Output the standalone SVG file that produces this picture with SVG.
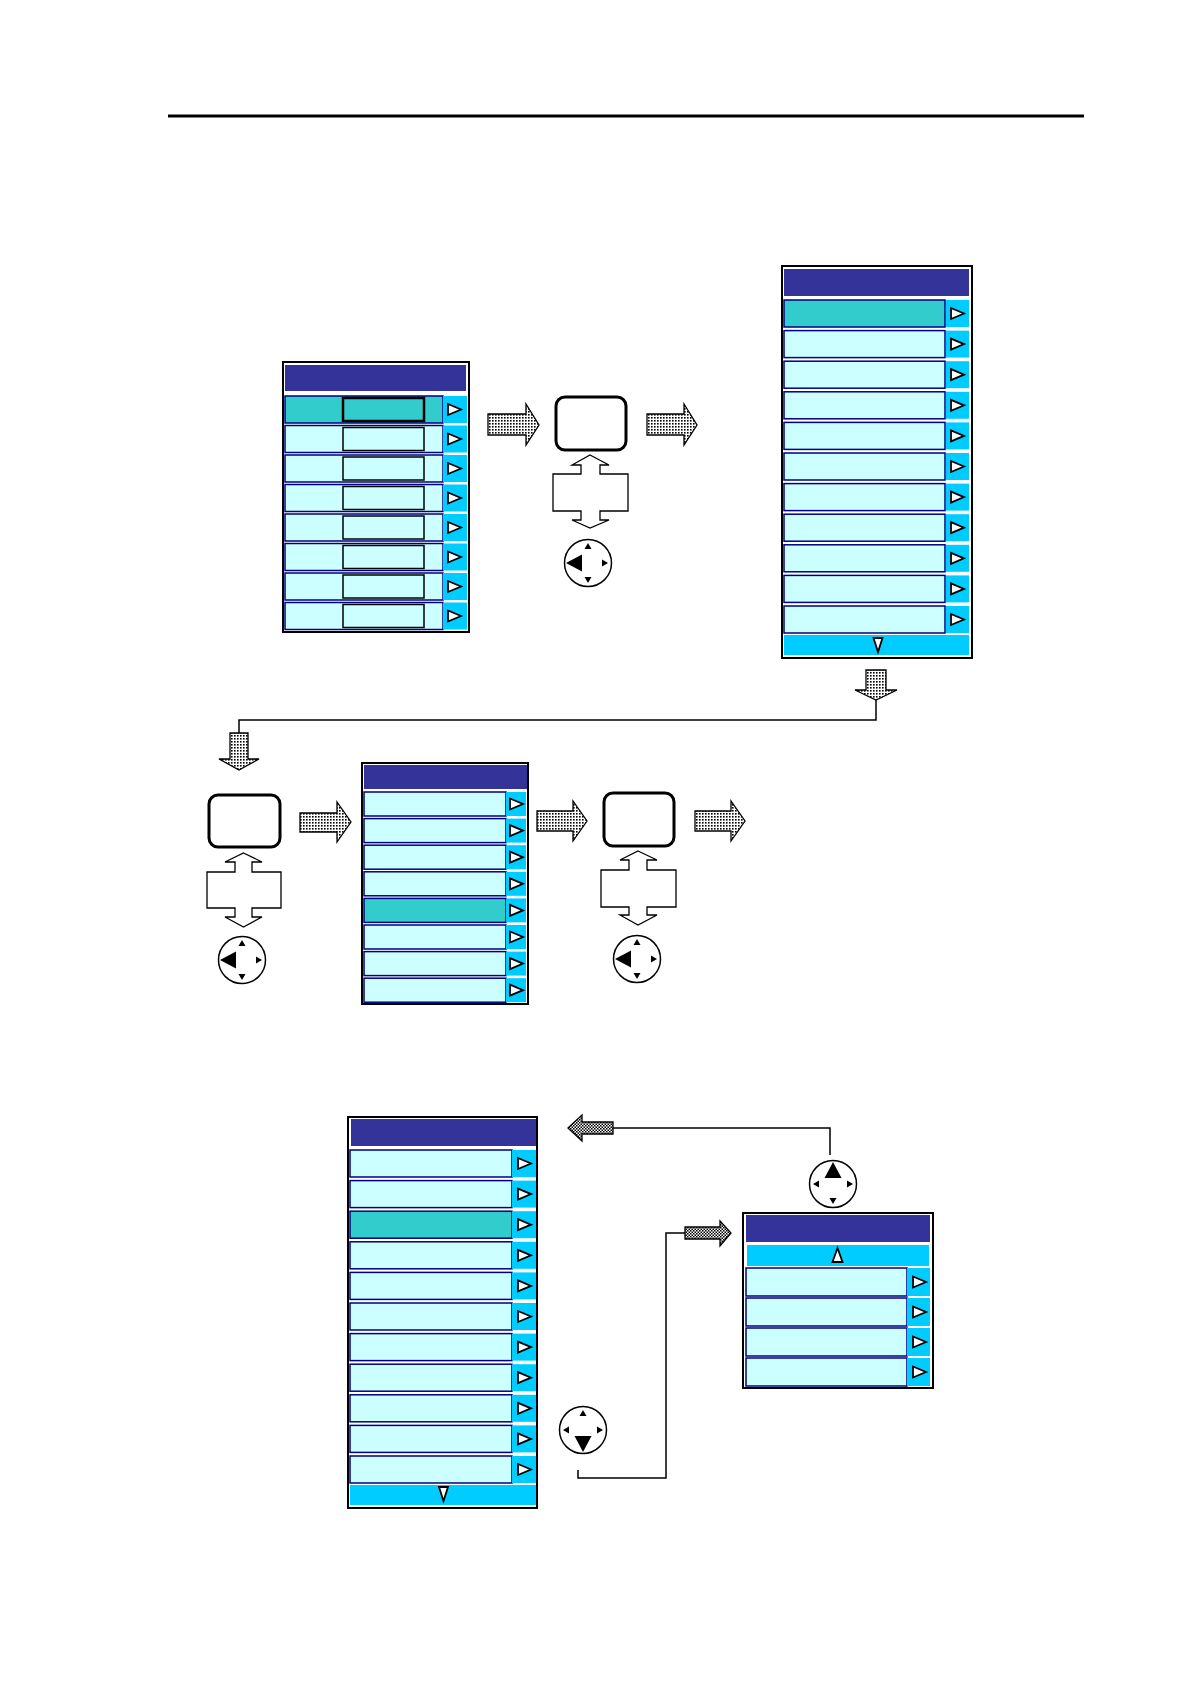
<svg xmlns="http://www.w3.org/2000/svg" xmlns:xlink="http://www.w3.org/1999/xlink" width="1190" height="1684" viewBox="0 0 1190 1684">
<style>
.frame{fill:#fff;stroke:#000;stroke-width:2}
.title{fill:#333399}
.row{stroke:#000080;stroke-width:1.5}
.btn{fill:#00CCFF}
.r{fill:#CCFFFF}
.hl{fill:#33CCCC}
.wt{fill:#fff;stroke:#000;stroke-width:1.8;stroke-linejoin:miter}
.vbox{fill:none;stroke:#000;stroke-width:1.5}
.scroll{fill:#00CCFF}
.key{fill:#fff;stroke:#000;stroke-width:3}
.dbl{fill:#fff;stroke:#000;stroke-width:1.3}
.jc{fill:#fff;stroke:#000;stroke-width:1.5}
.jt{fill:#000}
.dot{fill:url(#dots);stroke:#000;stroke-width:1.3}
.chk{fill:url(#checker);stroke:#000;stroke-width:1.3}
.ln{fill:none;stroke:#000;stroke-width:1.5}
</style>
<defs>
<pattern id="dots" width="3" height="3" patternUnits="userSpaceOnUse"><rect width="3" height="3" fill="#fff"/><rect width="1.6" height="1.6" fill="#000"/></pattern>
<pattern id="checker" width="3" height="3" patternUnits="userSpaceOnUse"><rect width="3" height="3" fill="#fff"/><rect width="1.5" height="1.5" fill="#000"/><rect x="1.5" y="1.5" width="1.5" height="1.5" fill="#000"/></pattern>
<path id="tri" d="M0,-5.5 L13,0 L0,5.5 Z" class="wt"/>
<g id="r1"><rect width="158" height="27" class="row"/><rect x="158" width="24" height="27" class="btn"/><use xlink:href="#tri" x="163" y="13.5"/><rect x="58" y="2" width="81" height="23" class="vbox"/></g>
<g id="r2"><rect width="161" height="27" class="row"/><rect x="162" width="23" height="27" class="btn"/><use xlink:href="#tri" x="167" y="13.5"/></g>
<g id="r3"><rect width="142" height="24" class="row"/><rect x="142" width="20" height="24" class="btn"/><use xlink:href="#tri" x="146" y="12"/></g>
<g id="r4"><rect width="162" height="27" class="row"/><rect x="162" width="24" height="27" class="btn"/><use xlink:href="#tri" x="168" y="13.5"/></g>
<g id="r5"><rect width="161" height="28" class="row"/><rect x="161" width="23" height="28" class="btn"/><use xlink:href="#tri" x="167" y="14"/></g>
<g id="joybase"><circle r="23.5" class="jc"/></g>
<path id="sup" d="M0,-20 L3.5,-14 L-3.5,-14 Z" class="jt"/>
<path id="sdn" d="M0,20 L3.5,14 L-3.5,14 Z" class="jt"/>
<path id="srt" d="M20,0 L14,-3.5 L14,3.5 Z" class="jt"/>
<path id="slt" d="M-20,0 L-14,-3.5 L-14,3.5 Z" class="jt"/>
</defs>
<rect width="1190" height="1684" fill="#fff"/>
<line x1="168" y1="116" x2="1084" y2="116" stroke="#000" stroke-width="3"/>

<g id="menu1">
<rect x="283" y="362" width="186" height="270" class="frame"/>
<rect x="285" y="365" width="181" height="26" class="title"/>
<use xlink:href="#r1" x="285" y="396" class="r hl"/>
<use xlink:href="#r1" x="285" y="425.5" class="r"/>
<use xlink:href="#r1" x="285" y="455" class="r"/>
<use xlink:href="#r1" x="285" y="484.5" class="r"/>
<use xlink:href="#r1" x="285" y="514" class="r"/>
<use xlink:href="#r1" x="285" y="543.5" class="r"/>
<use xlink:href="#r1" x="285" y="573" class="r"/>
<use xlink:href="#r1" x="285" y="602.5" class="r"/>
<rect x="343" y="398" width="81" height="23" fill="none" stroke="#000" stroke-width="2.5"/>
</g>

<g id="key1"><rect x="556" y="397" width="70" height="53" rx="9" class="key"/></g>
<g id="updown1"><path class="dbl" d="M590,455 L609,465 L600,465 L600,474 L628,474 L628,511 L600,511 L600,520 L609,520 L590,528 L572,520 L581,520 L581,511 L553,511 L553,474 L581,474 L581,465 L572,465 Z"/></g>
<g id="joy1" transform="translate(588,563)"><use xlink:href="#joybase"/><use xlink:href="#sup"/><use xlink:href="#sdn"/><use xlink:href="#srt"/><path d="M-22,0 L-6,-8.5 L-6,8.5 Z" class="jt"/></g>

<g id="menu2">
<rect x="782" y="266" width="190" height="392" class="frame"/>
<rect x="784" y="269" width="185" height="27" class="title"/>
<use xlink:href="#r2" x="784" y="300" class="r hl"/>
<use xlink:href="#r2" x="784" y="330.6" class="r"/>
<use xlink:href="#r2" x="784" y="361.2" class="r"/>
<use xlink:href="#r2" x="784" y="391.8" class="r"/>
<use xlink:href="#r2" x="784" y="422.4" class="r"/>
<use xlink:href="#r2" x="784" y="453" class="r"/>
<use xlink:href="#r2" x="784" y="483.6" class="r"/>
<use xlink:href="#r2" x="784" y="514.2" class="r"/>
<use xlink:href="#r2" x="784" y="544.8" class="r"/>
<use xlink:href="#r2" x="784" y="575.4" class="r"/>
<use xlink:href="#r2" x="784" y="606" class="r"/>
<rect x="784" y="635" width="185" height="20" class="scroll"/>
<path d="M873.5,638 L882.5,638 L878,652 Z" class="wt"/>
</g>

<g id="key2"><rect x="209" y="795" width="71" height="52" rx="9" class="key"/></g>
<g id="updown2"><path class="dbl" d="M243.5,853 L262,862 L252,862 L252,872 L281,872 L281,908 L252,908 L252,917 L262,917 L243.5,927 L225,917 L235,917 L235,908 L207,908 L207,872 L235,872 L235,862 L225,862 Z"/></g>
<g id="joy2" transform="translate(242,960)"><use xlink:href="#joybase"/><use xlink:href="#sup"/><use xlink:href="#sdn"/><use xlink:href="#srt"/><path d="M-22,0 L-6,-8.5 L-6,8.5 Z" class="jt"/></g>

<g id="menu3">
<rect x="362" y="763" width="166" height="241" class="frame"/>
<rect x="364" y="765" width="163" height="24" class="title"/>
<use xlink:href="#r3" x="364" y="792" class="r"/>
<use xlink:href="#r3" x="364" y="818.6" class="r"/>
<use xlink:href="#r3" x="364" y="845.2" class="r"/>
<use xlink:href="#r3" x="364" y="871.8" class="r"/>
<use xlink:href="#r3" x="364" y="898.4" class="r hl"/>
<use xlink:href="#r3" x="364" y="925" class="r"/>
<use xlink:href="#r3" x="364" y="951.6" class="r"/>
<use xlink:href="#r3" x="364" y="978.2" class="r"/>
</g>

<g id="key3"><rect x="604" y="793" width="70" height="53" rx="9" class="key"/></g>
<g id="updown3"><path class="dbl" d="M638,851 L657,860 L647,860 L647,870 L676,870 L676,907 L647,907 L647,915 L657,915 L638,925 L620,915 L629,915 L629,907 L601,907 L601,870 L629,870 L629,860 L620,860 Z"/></g>
<g id="joy3" transform="translate(637,959)"><use xlink:href="#joybase"/><use xlink:href="#sup"/><use xlink:href="#sdn"/><use xlink:href="#srt"/><path d="M-22,0 L-6,-8.5 L-6,8.5 Z" class="jt"/></g>

<g id="menu4">
<rect x="348" y="1117" width="189" height="391" class="frame"/>
<rect x="351" y="1119" width="185" height="27" class="title"/>
<use xlink:href="#r4" x="350" y="1150" class="r"/>
<use xlink:href="#r4" x="350" y="1180.6" class="r"/>
<use xlink:href="#r4" x="350" y="1211.2" class="r hl"/>
<use xlink:href="#r4" x="350" y="1241.8" class="r"/>
<use xlink:href="#r4" x="350" y="1272.4" class="r"/>
<use xlink:href="#r4" x="350" y="1303" class="r"/>
<use xlink:href="#r4" x="350" y="1333.6" class="r"/>
<use xlink:href="#r4" x="350" y="1364.2" class="r"/>
<use xlink:href="#r4" x="350" y="1394.8" class="r"/>
<use xlink:href="#r4" x="350" y="1425.4" class="r"/>
<use xlink:href="#r4" x="350" y="1456" class="r"/>
<rect x="350" y="1485" width="186" height="20" class="scroll"/>
<path d="M439,1487 L448,1487 L443.5,1501 Z" class="wt"/>
</g>

<g id="menu5">
<rect x="743" y="1213" width="190" height="175" class="frame"/>
<rect x="746" y="1215" width="184" height="27" class="title"/>
<rect x="747" y="1245" width="182" height="21" class="scroll"/>
<path d="M832.5,1262 L842.5,1262 L837.5,1248 Z" class="wt"/>
<use xlink:href="#r5" x="746" y="1268" class="r"/>
<use xlink:href="#r5" x="746" y="1298" class="r"/>
<use xlink:href="#r5" x="746" y="1328" class="r"/>
<use xlink:href="#r5" x="746" y="1358" class="r"/>
</g>

<g id="joy4" transform="translate(833,1184)"><use xlink:href="#joybase"/><use xlink:href="#slt"/><use xlink:href="#sdn"/><use xlink:href="#srt"/><path d="M0,-22 L8.5,-6 L-8.5,-6 Z" class="jt"/></g>
<g id="joy5" transform="translate(583,1430)"><use xlink:href="#joybase"/><use xlink:href="#slt"/><use xlink:href="#sup"/><use xlink:href="#srt"/><path d="M0,22 L8.5,6 L-8.5,6 Z" class="jt"/></g>

<g id="connectors">
<path class="dot" d="M488,414 L526,414 L526,404 L539,425 L526,445 L526,435 L488,435 Z"/>
<path class="dot" d="M647,414 L684,414 L684,404 L697,425 L684,445 L684,435 L647,435 Z"/>
<path class="dot" d="M866,670 L886,670 L886,690 L897,690 L876,700 L855,690 L866,690 Z"/>
<polyline class="ln" points="876,700 876,720 239,720 239,733"/>
<path class="dot" d="M230,733 L248,733 L248,759 L259,759 L239,770 L219,759 L230,759 Z"/>
<path class="dot" d="M300,813 L337,813 L337,802 L351,822 L337,842 L337,832 L300,832 Z"/>
<path class="dot" d="M537,811 L573,811 L573,801 L587,821 L573,841 L573,831 L537,831 Z"/>
<path class="dot" d="M695,811 L731,811 L731,801 L745,821 L731,841 L731,831 L695,831 Z"/>
<polyline class="ln" points="613,1128 830,1128 830,1155"/>
<path class="chk" d="M613,1122 L582,1122 L582,1115 L568,1128 L582,1141 L582,1134 L613,1134 Z"/>
<polyline class="ln" points="685,1233 666,1233 666,1478 578,1478 578,1470"/>
<path class="chk" d="M685,1227 L720,1227 L720,1221 L731,1233 L720,1246 L720,1239 L685,1239 Z"/>
</g>
</svg>
